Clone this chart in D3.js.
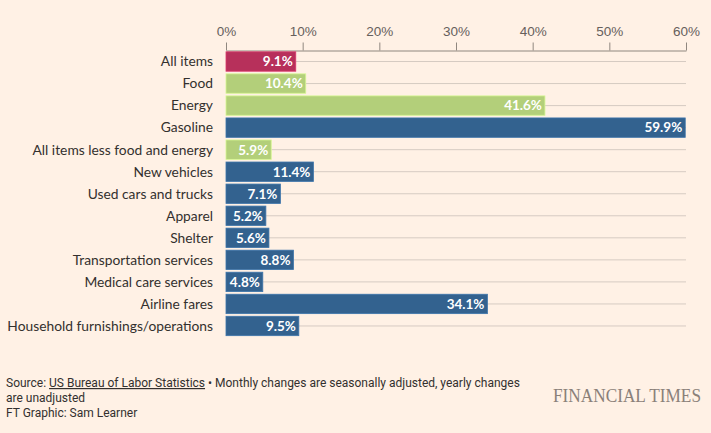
<!DOCTYPE html>
<html>
<head>
<meta charset="utf-8">
<script src="https://cdn.jsdelivr.net/npm/d3@7"></script>
<style>
  body { margin: 0; background: #fff1e5; }
  svg { display: block; }
</style>
</head>
<body>
<div id="chart"></div>
<script>
// chart data
const categories = ["All items", "Food", "Energy", "Gasoline", "All items less food and energy",
  "New vehicles", "Used cars and trucks", "Apparel", "Shelter", "Transportation services",
  "Medical care services", "Airline fares", "Household furnishings/operations"];
const yearlyChange = [9.1, 10.4, 41.6, 59.9, 5.9, 11.4, 7.1, 5.2, 5.6, 8.8, 4.8, 34.1, 9.5];
const groups = ["all", "core", "core", "other", "core", "other", "other", "other", "other",
  "other", "other", "other", "other"];
const xTicks = [0, 10, 20, 30, 40, 50, 60];

const width = 711, height = 433;
const margin = {top: 50.5, right: 25, bottom: 95.5, left: 226};

const colour = d3.scaleOrdinal()
  .domain(["all", "core", "other"])
  .range(["#b7305b", "#b3cf7a", "#33628f"]);

const svg = d3.select("#chart").append("svg")
  .attr("width", width)
  .attr("height", height)
  .style("background", "#fff1e5")
  .style("font-family", "Lato, 'Open Sans', sans-serif");

const x = d3.scaleLinear()
  .domain([0, 60])
  .range([margin.left, 686]);

const y = d3.scaleBand()
  .domain(categories)
  .range([margin.top, height - margin.bottom - 0.5])
  .paddingInner(0.12)
  .paddingOuter(0.06);

// top axis
const xAxis = svg.append("g")
  .attr("transform", "translate(0," + margin.top + ")")
  .call(d3.axisTop(x).tickValues(xTicks).tickFormat(d => d + "%").tickSize(8).tickSizeOuter(0));
xAxis.select(".domain").attr("stroke", "#8f877f");
xAxis.selectAll(".tick line").attr("stroke", "#8f877f");
xAxis.selectAll(".tick text")
  .attr("fill", "#66605c")
  .attr("font-size", 13.5)
  .attr("y", -15);

const rows = categories.map((c, i) => ({cat: c, value: yearlyChange[i], group: groups[i]}));

// row guide lines
svg.selectAll("line.guide")
  .data(rows).enter()
  .append("line")
  .attr("class", "guide")
  .attr("x1", d => x(d.value))
  .attr("x2", x(60))
  .attr("y1", d => y(d.cat) + y.bandwidth() / 2)
  .attr("y2", d => y(d.cat) + y.bandwidth() / 2)
  .attr("stroke", "#d6cbc2")
  .attr("stroke-width", 1);

// bars
svg.selectAll("rect.bar")
  .data(rows).enter()
  .append("rect")
  .attr("class", "bar")
  .attr("x", x(0))
  .attr("y", d => y(d.cat))
  .attr("width", d => x(d.value) - x(0))
  .attr("height", y.bandwidth())
  .attr("fill", d => colour(d.group))
  .attr("stroke", d => d3.color(colour(d.group)).brighter(0.5))
  .attr("stroke-width", 0.8);

// category labels
svg.selectAll("text.cat")
  .data(rows).enter()
  .append("text")
  .attr("class", "cat")
  .attr("x", 213)
  .attr("y", d => y(d.cat) + y.bandwidth() / 2)
  .attr("dy", "0.35em")
  .attr("text-anchor", "end")
  .attr("font-size", 13.8)
  .attr("fill", "#33302e")
  .text(d => d.cat);

// value labels
svg.selectAll("text.val")
  .data(rows).enter()
  .append("text")
  .attr("class", "val")
  .attr("x", d => x(d.value) - 3)
  .attr("y", d => y(d.cat) + y.bandwidth() / 2)
  .attr("dy", "0.36em")
  .attr("text-anchor", "end")
  .attr("font-size", 13.5)
  .attr("font-weight", "bold")
  .attr("fill", "#ffffff")
  .attr("stroke", d => colour(d.group))
  .attr("stroke-width", 1.5)
  .attr("paint-order", "stroke")
  .text(d => d.value.toFixed(1) + "%");

// footer
const footFont = "'Liberation Sans Narrow', 'Roboto', sans-serif";
const foot = svg.append("text")
  .attr("x", 6)
  .attr("y", 387)
  .attr("font-size", 12)
  .attr("fill", "#33302e")
  .style("font-family", footFont);
foot.append("tspan").text("Source: ");
foot.append("tspan").attr("text-decoration", "underline").text("US Bureau of Labor Statistics");
foot.append("tspan").text(" \u2022 Monthly changes are seasonally adjusted, yearly changes");

svg.append("text")
  .attr("x", 6).attr("y", 402)
  .attr("font-size", 12).attr("fill", "#33302e")
  .style("font-family", footFont)
  .text("are unadjusted");

svg.append("text")
  .attr("x", 6).attr("y", 417)
  .attr("font-size", 12).attr("fill", "#33302e")
  .style("font-family", footFont)
  .text("FT Graphic: Sam Learner");

svg.append("text")
  .attr("x", 701).attr("y", 402)
  .attr("text-anchor", "end")
  .attr("font-size", 18)
  .attr("fill", "#8a8079")
  .attr("textLength", 148)
  .attr("lengthAdjust", "spacingAndGlyphs")
  .style("font-family", "'Liberation Serif', serif")
  .text("FINANCIAL TIMES");
</script>
</body>
</html>
